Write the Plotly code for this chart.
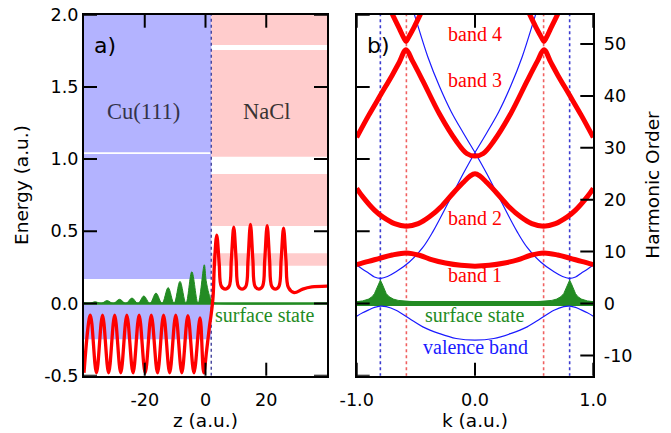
import plotly.graph_objects as go

# ---------------- Panel a data ----------------
interface_z = 1.9
cu_bands = [[-0.248, 0.0], [0.17, 1.035], [1.047, 2.0]]
nacl_bands = [[0.262, 0.348], [0.537, 0.897], [1.017, 1.755], [1.79, 2.0]]

red_z = [-40.0, -37.9, -35.9, -33.9, -31.9, -29.9, -27.9, -25.9, -23.85, -21.85, -19.85,
         -17.85, -15.8, -13.8, -11.8, -9.8, -7.8, -5.8, -3.8, -1.8, -0.6, 0.4, 1.3, 1.9,
         2.5, 2.95, 3.7, 4.5, 5.2, 6.5, 7.8, 8.5, 9.3, 10.1, 10.8, 12.05, 13.3, 14.0, 14.8,
         15.6, 16.3, 17.55, 18.8, 19.5, 20.3, 21.1, 21.8, 23.0, 24.2, 24.9, 25.7, 26.5,
         27.3, 29.2, 32.0, 35.0, 40.0]
red_E = [-0.48, -0.08, -0.48, -0.08, -0.48, -0.08, -0.48, -0.08, -0.48, -0.08, -0.48,
         -0.08, -0.48, -0.08, -0.48, -0.08, -0.48, -0.085, -0.48, -0.10, -0.48, -0.32, -0.16, -0.07,
         0.05, 0.28, 0.474, 0.28, 0.12, 0.10, 0.12, 0.30, 0.528, 0.30, 0.12, 0.10, 0.12, 0.30, 0.548,
         0.30, 0.12, 0.10, 0.12, 0.30, 0.539, 0.30, 0.12, 0.10, 0.12, 0.30, 0.521, 0.30,
         0.11, 0.075, 0.10, 0.115, 0.121]

green_z = [-40.0, -38.3, -36.3, -34.35, -32.4, -30.35, -28.3, -26.25, -24.2, -22.25, -20.3,
           -18.3, -16.3, -14.3, -12.3, -10.35, -8.4, -6.45, -4.5, -2.45, -0.4, 0.2, 1.1,
           1.9, 3.0, 4.0, 40.0]
green_E = [0.004, 0.0, 0.012, 0.0, 0.02, 0.0, 0.029, 0.0, 0.038, 0.0, 0.052,
           0.0, 0.072, 0.0, 0.11, 0.0, 0.153, 0.0, 0.22, 0.0, 0.268, 0.16, 0.07,
           0.024, 0.005, 0.0, 0.0]

# ---------------- Panel b data (harmonic order units) ----------------
band1_k = [-1.0, -0.9, -0.8, -0.7, -0.58, -0.47, -0.36, -0.25, -0.12, 0.0,
           0.12, 0.25, 0.36, 0.47, 0.58, 0.7, 0.8, 0.9, 1.0]
band1_h = [7.5, 8.1, 8.75, 9.35, 9.75, 9.3, 8.4, 7.8, 7.35, 7.2,
           7.35, 7.8, 8.4, 9.3, 9.75, 9.35, 8.75, 8.1, 7.5]

band2_k = [-1.0, -0.95, -0.85, -0.78, -0.68, -0.58, -0.48, -0.385, -0.28, -0.187, -0.1, -0.04, 0.0,
           0.04, 0.1, 0.187, 0.28, 0.385, 0.48, 0.58, 0.68, 0.78, 0.85, 0.95, 1.0]
band2_h = [22.2, 20.6, 18.0, 16.7, 15.4, 14.9, 15.4, 16.7, 18.8, 21.2, 23.3, 24.6, 25.0,
           24.6, 23.3, 21.2, 18.8, 16.7, 15.4, 14.9, 15.4, 16.7, 18.0, 20.6, 22.2]

band3_k = [-1.0, -0.9, -0.795, -0.7, -0.64, -0.583, -0.53, -0.441, -0.3, -0.159, -0.07, 0.0,
           0.07, 0.159, 0.3, 0.441, 0.53, 0.583, 0.64, 0.7, 0.795, 0.9, 1.0]
band3_h = [32.0, 36.2, 40.3, 44.0, 46.5, 48.9, 46.8, 42.9, 36.5, 31.3, 28.9, 28.4,
           28.9, 31.3, 36.5, 42.9, 46.8, 48.9, 46.5, 44.0, 40.3, 36.2, 32.0]

band4l_k = [-0.74, -0.70, -0.64, -0.6, -0.583, -0.566, -0.52, -0.46, -0.42]
band4l_h = [57.6, 55.8, 53.0, 51.1, 50.5, 51.1, 53.0, 55.8, 57.6]
band4r_k = [0.42, 0.46, 0.52, 0.566, 0.583, 0.6, 0.64, 0.70, 0.74]
band4r_h = [57.6, 55.8, 53.0, 51.1, 50.5, 51.1, 53.0, 55.8, 57.6]

free_ul_k = [-0.54, -0.513, -0.4, -0.3, -0.2, -0.1, 0.0]
free_ul_h = [57.5, 55.7, 47.6, 41.8, 36.9, 32.9, 29.1]
free_ur_k = [0.0, 0.1, 0.2, 0.3, 0.4, 0.513, 0.54]
free_ur_h = [29.1, 32.9, 36.9, 41.8, 47.6, 55.7, 57.5]
free_ll_k = [0.0, -0.1, -0.229, -0.357, -0.441, -0.555, -0.668, -0.74, -0.795, -0.85, -0.895, -0.95, -1.0]
free_ll_h = [29.1, 25.0, 19.3, 13.8, 10.8, 8.0, 6.1, 5.2, 4.85, 5.1, 5.8, 6.6, 7.4]
free_lr_k = [0.0, 0.1, 0.229, 0.357, 0.441, 0.555, 0.668, 0.74, 0.795, 0.85, 0.895, 0.95, 1.0]
free_lr_h = [29.1, 25.0, 19.3, 13.8, 10.8, 8.0, 6.1, 5.2, 4.85, 5.1, 5.8, 6.6, 7.4]

val_k = [-1.0, -0.95, -0.895, -0.85, -0.8, -0.75, -0.668, -0.555, -0.441, -0.3, -0.159, 0.0,
         0.159, 0.3, 0.441, 0.555, 0.668, 0.75, 0.8, 0.85, 0.895, 0.95, 1.0]
val_h = [-2.45, -1.8, -1.2, -0.75, -0.5, -0.6, -1.3, -2.9, -4.5, -5.8, -6.75, -7.07,
         -6.75, -5.8, -4.5, -2.9, -1.3, -0.6, -0.5, -0.75, -1.2, -1.8, -2.45]

ss_k = [-1.0, -0.95, -0.9, -0.87, -0.85, -0.83, -0.815, -0.8, -0.785, -0.77, -0.75, -0.725, -0.69,
        -0.65, -0.55, -0.4, 0.0, 0.4, 0.55, 0.65, 0.69, 0.725, 0.75, 0.77, 0.785, 0.8, 0.815,
        0.83, 0.85, 0.87, 0.9, 0.95, 1.0]
ss_h = [0.35, 0.5, 0.85, 1.3, 1.9, 2.9, 3.8, 4.5, 3.8, 2.9, 1.9, 1.3, 0.85,
        0.6, 0.4, 0.3, 0.25, 0.3, 0.4, 0.6, 0.85, 1.3, 1.9, 2.9, 3.8, 4.5, 3.8,
        2.9, 1.9, 1.3, 0.85, 0.5, 0.35]

red_dot_k = [-0.58, 0.58]
blue_dot_k = [-0.8, 0.8]

omega = 0.03594  # energy per harmonic order

# tick labels
ya_vals = [-0.5, 0.0, 0.5, 1.0, 1.5, 2.0]
ya_text = ["-0.5", "0.0", "0.5", "1.0", "1.5", "2.0"]
xa_vals = [-20, 0, 20]
xa_text = ["-20", "0", "20"]
xb_vals = [-1, 0, 1]
xb_text = ["-1.0", "0.0", "1.0"]
yb_vals = [-0.5, 0.0, 0.5, 1.0, 1.5, 2.0]
ho_vals = [-10, 0, 10, 20, 30, 40, 50]
ho_text = ["-10", "0", "10", "20", "30", "40", "50"]

RED = "#ff0000"
BLUE = "#1a1aff"
GREEN = "#238b23"
CU = "#b3b3ff"
NACL = "#ffcccc"

W, H = 671, 433
fig = go.Figure()

# ---- panel a traces
fig.add_trace(go.Scatter(x=[-40, 40], y=[0, 0], mode="lines", line=dict(color=GREEN, width=2.5),
                         xaxis="x", yaxis="y", hoverinfo="skip"))
fig.add_trace(go.Scatter(x=green_z, y=green_E, mode="lines", line=dict(color=GREEN, width=1, shape="spline"),
                         fill="tozeroy", fillcolor=GREEN, xaxis="x", yaxis="y"))
fig.add_trace(go.Scatter(x=red_z, y=red_E, mode="lines", line=dict(color=RED, width=3.3, shape="spline"),
                         xaxis="x", yaxis="y"))

# ---- panel b traces
for kk in blue_dot_k:
    fig.add_trace(go.Scatter(x=[kk, kk], y=[-14, 56], mode="lines",
                             line=dict(color="#3a3ad0", width=1.6, dash="dot"), xaxis="x2", yaxis="y3"))
for kk in red_dot_k:
    fig.add_trace(go.Scatter(x=[kk, kk], y=[-14, 56], mode="lines",
                             line=dict(color="#f06060", width=1.6, dash="dot"), xaxis="x2", yaxis="y3"))

fig.add_trace(go.Scatter(x=ss_k, y=ss_h, mode="lines", line=dict(color=GREEN, width=1),
                         fill="tozeroy", fillcolor=GREEN, xaxis="x2", yaxis="y3"))
fig.add_trace(go.Scatter(x=[-1, 1], y=[0, 0], mode="lines", line=dict(color=GREEN, width=5),
                         xaxis="x2", yaxis="y3"))
for kx, hy in [(free_ul_k, free_ul_h), (free_ur_k, free_ur_h), (free_ll_k, free_ll_h),
               (free_lr_k, free_lr_h), (val_k, val_h)]:
    fig.add_trace(go.Scatter(x=kx, y=hy, mode="lines", line=dict(color=BLUE, width=1.2, shape="spline"),
                             xaxis="x2", yaxis="y3"))
for kx, hy in [(band1_k, band1_h), (band2_k, band2_h), (band3_k, band3_h),
               (band4l_k, band4l_h), (band4r_k, band4r_h)]:
    fig.add_trace(go.Scatter(x=kx, y=hy, mode="lines", line=dict(color=RED, width=5, shape="spline"),
                             xaxis="x2", yaxis="y3"))

# ---- regions
shapes = []
for lo, hi in cu_bands:
    shapes.append(dict(type="rect", xref="x", yref="y", x0=-40, x1=interface_z, y0=lo, y1=hi,
                       fillcolor=CU, line=dict(width=0), layer="below"))
for lo, hi in nacl_bands:
    shapes.append(dict(type="rect", xref="x", yref="y", x0=interface_z, x1=40, y0=lo, y1=hi,
                       fillcolor=NACL, line=dict(width=0), layer="below"))
shapes.append(dict(type="line", xref="x", yref="y", x0=interface_z, x1=interface_z, y0=-0.5, y1=2.0,
                   line=dict(color="#4a4aa0", width=1.5, dash="dot"), layer="below"))

# ---- inward tick marks (matplotlib style), placed at the tick values
TL = 13.0
xd1 = [84 / W, 327 / W]
xd2 = [356.7 / W, 593.3 / W]
yd = [1 - 375.7 / H, 1 - 14.7 / H]
pa_w = (xd1[1] - xd1[0]) * W
pb_w = (xd2[1] - xd2[0]) * W
p_h = (yd[1] - yd[0]) * H
tick_line = dict(color="black", width=2)


def vticks(xref, ydomref, vals):
    out = []
    for v in vals:
        out.append(dict(type="line", xref=xref, yref=ydomref, x0=v, x1=v, y0=0, y1=TL / p_h,
                        line=tick_line, layer="above"))
        out.append(dict(type="line", xref=xref, yref=ydomref, x0=v, x1=v, y0=1 - TL / p_h, y1=1,
                        line=tick_line, layer="above"))
    return out


def hticks(xdomref, yref, vals, width_px, left=True, right=True):
    out = []
    for v in vals:
        if left:
            out.append(dict(type="line", xref=xdomref, yref=yref, x0=0, x1=TL / width_px, y0=v, y1=v,
                            line=tick_line, layer="above"))
        if right:
            out.append(dict(type="line", xref=xdomref, yref=yref, x0=1 - TL / width_px, x1=1, y0=v, y1=v,
                            line=tick_line, layer="above"))
    return out


shapes += vticks("x", "y domain", xa_vals)
shapes += hticks("x domain", "y", ya_vals, pa_w)
shapes += vticks("x2", "y2 domain", xb_vals)
shapes += hticks("x2 domain", "y2", yb_vals, pb_w, left=True, right=False)
shapes += hticks("x2 domain", "y3", ho_vals, pb_w, left=False, right=True)

tickfont = dict(family="DejaVu Sans", size=17.6, color="#000")
titlefont = dict(family="DejaVu Sans", size=18.5, color="#000")
serif = "Liberation Serif"

common = dict(showline=True, linecolor="black", linewidth=2, ticks="",
              showgrid=False, zeroline=False,
              tickfont=tickfont, automargin=False)

ann = [
    dict(text="Energy (a.u.)", xref="paper", yref="paper", x=21 / W, y=1 - 185 / H, textangle=-90,
         showarrow=False, font=titlefont, xanchor="center", yanchor="middle"),
    dict(text="z (a.u.)", xref="paper", yref="paper", x=205.5 / W, y=1 - 420 / H,
         showarrow=False, font=titlefont, xanchor="center", yanchor="middle"),
    dict(text="k (a.u.)", xref="paper", yref="paper", x=474.7 / W, y=1 - 420 / H,
         showarrow=False, font=titlefont, xanchor="center", yanchor="middle"),
    dict(text="Harmonic Order", xref="paper", yref="paper", x=651.7 / W, y=1 - 185 / H, textangle=-90,
         showarrow=False, font=titlefont, xanchor="center", yanchor="middle"),
    dict(text="a)", xref="x", yref="y", x=-33.2, y=1.79, showarrow=False,
         font=dict(family="DejaVu Sans", size=22, color="#000")),
    dict(text="b)", xref="x2", yref="y3", x=-0.812, y=49.8, showarrow=False,
         font=dict(family="DejaVu Sans", size=22, color="#000")),
    dict(text="Cu(111)", xref="x", yref="y", x=-20.4, y=1.333, showarrow=False,
         font=dict(family=serif, size=22.5, color="#33334a")),
    dict(text="NaCl", xref="x", yref="y", x=20.2, y=1.333, showarrow=False,
         font=dict(family=serif, size=22.5, color="#3a3333")),
    dict(text="surface state", xref="x", yref="y", x=19.7, y=-0.08, showarrow=False,
         font=dict(family=serif, size=20, color=GREEN)),
]
for txt, hy, col in [("band 4", 52.0, RED), ("band 3", 43.0, RED), ("band 2", 16.4, RED),
                     ("band 1", 5.45, RED), ("surface state", -2.25, GREEN),
                     ("valence band", -8.36, BLUE)]:
    ann.append(dict(text=txt, xref="x2", yref="y3", x=0.0, y=hy, showarrow=False,
                    font=dict(family=serif, size=20, color=col)))

fig.update_layout(
    width=W, height=H, margin=dict(l=0, r=0, t=0, b=0), autosize=False,
    paper_bgcolor="white", plot_bgcolor="white", showlegend=False,
    shapes=shapes, annotations=ann,
    xaxis=dict(domain=xd1, range=[-40, 40], anchor="y", mirror=True,
               tickvals=xa_vals, ticktext=xa_text, ticklabelstandoff=7, **common),
    yaxis=dict(domain=yd, range=[-0.5, 2.0], anchor="x", mirror=True,
               tickvals=ya_vals, ticktext=ya_text, **common),
    xaxis2=dict(domain=xd2, range=[-1, 1], anchor="y2", mirror=True,
                tickvals=xb_vals, ticktext=xb_text, ticklabelstandoff=7, **common),
    yaxis2=dict(domain=yd, range=[-0.5, 2.0], anchor="x2", showticklabels=False,
                tickvals=yb_vals, **common),
    yaxis3=dict(domain=yd, range=[-0.5 / omega, 2.0 / omega], overlaying="y2", anchor="x2", side="right",
                tickvals=ho_vals, ticktext=ho_text, ticklabelstandoff=5, **common),
)

fig.write_html("out.html", config={"displayModeBar": False},
               post_script="document.body.style.margin='0px';document.body.style.padding='0px';")
